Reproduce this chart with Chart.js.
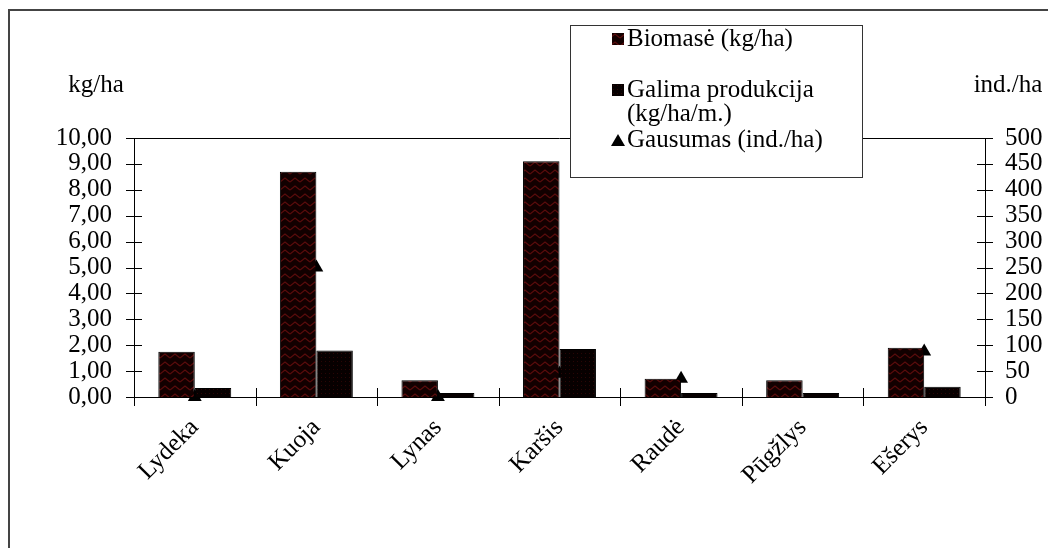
<!DOCTYPE html>
<html>
<head>
<meta charset="utf-8">
<script src="https://cdn.jsdelivr.net/npm/chart.js@4.4.0/dist/chart.umd.min.js"></script>
<style>
    html, body { margin: 0; padding: 0; background: #fff; overflow: hidden; }
    #Wrap { position: relative; width: 1048px; height: 548px; }
    #Frame { position: absolute; left: 8px; top: 9px; width: 1100px; height: 600px; border-left: 2px solid #444; border-top: 2px solid #444; }
    #ChartZuvys { position: absolute; left: 0; top: 0; }
</style>
</head>
<body>
<div id="Wrap">
    <div id="Frame"></div>
    <canvas id="ChartZuvys" width="1048" height="548"></canvas>
</div>
<script>
// duomenys
const Rusys = ['Lydeka', 'Kuoja', 'Lynas', 'Karšis', 'Raudė', 'Pūgžlys', 'Ešerys'];
const Biomase = [1.75, 8.7, 0.65, 9.1, 0.7, 0.65, 1.9];
const Produkcija = [0.35, 1.8, 0.15, 1.85, 0.15, 0.15, 0.4];
const Gausumas = [0, 250, 0, 45, 35, null, 88];

const Serif = "'Liberation Serif', 'Times New Roman', serif";
Chart.defaults.font.family = Serif;
Chart.defaults.font.size = 25;
Chart.defaults.color = '#000';

// rastai stulpeliams
const PatternBiomase = () => {
    const c = document.createElement('canvas');
    c.width = 10; c.height = 8;
    const g = c.getContext('2d');
    g.fillStyle = '#120000';
    g.fillRect(0, 0, 10, 8);
    g.strokeStyle = '#5a0c0c';
    g.lineWidth = 1.3;
    g.beginPath();
    g.moveTo(0, 6); g.lineTo(5, 2); g.lineTo(10, 6);
    g.stroke();
    return document.getElementById('ChartZuvys').getContext('2d').createPattern(c, 'repeat');
};

const PatternProdukcija = () => {
    const c = document.createElement('canvas');
    c.width = 4; c.height = 4;
    const g = c.getContext('2d');
    g.fillStyle = '#070000';
    g.fillRect(0, 0, 4, 4);
    g.fillStyle = '#2a0505';
    g.fillRect(1, 1, 1, 1);
    return document.getElementById('ChartZuvys').getContext('2d').createPattern(c, 'repeat');
};

const FmtKg = (v) => v.toFixed(2).replace('.', ',');

// kryžminės žymės, rėmas, ašių pavadinimai, legenda
const Papildomai = {
    id: 'papildomai',
    afterDraw(chart) {
        const ctx = chart.ctx;
        const a = chart.chartArea;
        const sy = chart.scales.y, sy1 = chart.scales.y1;
        ctx.save();
        ctx.strokeStyle = '#000';
        ctx.lineWidth = 1;
        ctx.beginPath();
        ctx.moveTo(a.left, a.top + 0.5); ctx.lineTo(a.right, a.top + 0.5);
        sy.ticks.forEach((t) => {
            const y = Math.round(sy.getPixelForValue(t.value)) + 0.5;
            ctx.moveTo(a.left - 8, y); ctx.lineTo(a.left + 8, y);
        });
        sy1.ticks.forEach((t) => {
            const y = Math.round(sy1.getPixelForValue(t.value)) + 0.5;
            ctx.moveTo(a.right - 8, y); ctx.lineTo(a.right + 8, y);
        });
        const w = (a.right - a.left) / Rusys.length;
        for (let i = 0; i <= Rusys.length; i++) {
            const x = Math.round(a.left + i * w) + 0.5;
            ctx.moveTo(x, a.bottom - 9); ctx.lineTo(x, a.bottom + 9);
        }
        ctx.stroke();

        ctx.fillStyle = '#000';
        ctx.font = '25px ' + Serif;
        ctx.textBaseline = 'middle';
        ctx.textAlign = 'center';
        ctx.fillText('kg/ha', 96, 85);
        ctx.fillText('ind./ha', 1008, 85);

        // legenda
        ctx.fillStyle = '#fff';
        ctx.fillRect(570, 25, 292, 152);
        ctx.strokeStyle = '#333';
        ctx.strokeRect(570.5, 25.5, 292, 152);
        ctx.textAlign = 'left';
        ctx.fillStyle = chart.data.datasets[0].backgroundColor;
        ctx.fillRect(612, 33, 12, 12);
        ctx.fillStyle = chart.data.datasets[1].backgroundColor;
        ctx.fillRect(612, 84, 12, 12);
        ctx.fillStyle = '#000';
        ctx.beginPath();
        ctx.moveTo(618, 134); ctx.lineTo(625, 146); ctx.lineTo(611, 146);
        ctx.closePath();
        ctx.fill();
        ctx.fillText('Biomasė (kg/ha)', 627, 39);
        ctx.fillText('Galima produkcija', 627, 90);
        ctx.fillText('(kg/ha/m.)', 627, 114);
        ctx.fillText('Gausumas (ind./ha)', 627, 140);
        ctx.restore();
    }
};

const ctxZuvys = document.getElementById('ChartZuvys');
const ChartZuvys = new Chart(ctxZuvys, {
    type: 'bar',
    data: {
        labels: Rusys,
        datasets: [{
            label: 'Biomasė (kg/ha)',
            data: Biomase,
            backgroundColor: PatternBiomase(),
            borderColor: '#000',
            borderWidth: 1,
            yAxisID: 'y',
            order: 1
        }, {
            label: 'Galima produkcija (kg/ha/m.)',
            data: Produkcija,
            backgroundColor: PatternProdukcija(),
            borderColor: '#000',
            borderWidth: 1,
            yAxisID: 'y',
            order: 1
        }, {
            type: 'line',
            label: 'Gausumas (ind./ha)',
            data: Gausumas,
            showLine: false,
            pointStyle: 'triangle',
            pointRadius: 8,
            backgroundColor: '#000',
            borderColor: '#000',
            borderWidth: 0,
            yAxisID: 'y1',
            clip: false,
            order: 2
        }]
    },
    options: {
        responsive: false,
        animation: false,
        layout: { padding: { top: 138, left: 0, right: 0, bottom: 0 } },
        datasets: {
            bar: { categoryPercentage: 0.6, barPercentage: 1.0 }
        },
        plugins: {
            legend: { display: false },
            tooltip: { enabled: false }
        },
        scales: {
            x: {
                offset: true,
                grid: { display: false, offset: true },
                border: { color: '#000', width: 1 },
                ticks: { maxRotation: 45, minRotation: 45, padding: 8, autoSkip: false },
                afterFit: (s) => { s.height = 151; }
            },
            y: {
                position: 'left',
                min: 0,
                max: 10,
                grid: { display: false },
                border: { color: '#000', width: 1 },
                ticks: { stepSize: 1, padding: 14, autoSkip: false, callback: (v) => FmtKg(v) },
                afterFit: (s) => { s.width = 134; }
            },
            y1: {
                position: 'right',
                min: 0,
                max: 500,
                grid: { display: false },
                border: { color: '#000', width: 1 },
                ticks: { stepSize: 50, padding: 12, autoSkip: false },
                afterFit: (s) => { s.width = 63; }
            }
        }
    },
    plugins: [Papildomai]
});
</script>
</body>
</html>
